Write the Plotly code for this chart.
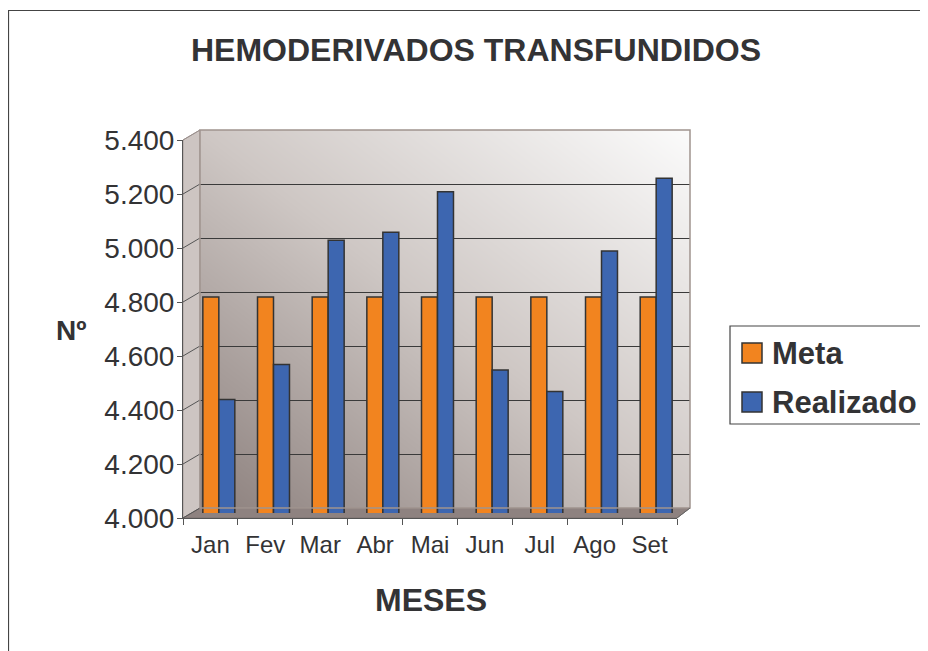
import plotly.graph_objects as go

# ---- data ----
months = ["Jan", "Fev", "Mar", "Abr", "Mai", "Jun", "Jul", "Ago", "Set"]
meta = [4800, 4800, 4800, 4800, 4800, 4800, 4800, 4800, 4800]
realizado = [4420, 4550, 5010, 5040, 5190, 4530, 4450, 4970, 5240]
y_tickvals = [4000, 4200, 4400, 4600, 4800, 5000, 5200, 5400]
y_ticktext = ["4.000", "4.200", "4.400", "4.600", "4.800", "5.000", "5.200", "5.400"]
series_names = ["Meta", "Realizado"]
title_text = "HEMODERIVADOS TRANSFUNDIDOS"
x_title = "MESES"
y_title = "Nº"

# ---- style ----
W, H = 928, 651
OFF = 8  # page body margin
FONT = "Liberation Sans, Arial, sans-serif"
TXT = "#333335"
ORANGE = "#f2841f"
BLUE = "#3d66b0"
EDGE = "#333333"

def px(x):
    return (x - OFF) / W

def py(y):
    return 1 - (y - OFF) / H

# pixel geometry in screen coords (front axis, back wall, mid depth for bars)
FX0, FX1, FY0, FY1 = 183, 677, 518, 140
BX0, BX1, BY0, BY1 = 200, 690, 508, 130
MX0, MX1, MY0, MY1 = 191.5, 683.5, 513, 135

fig = go.Figure()

fig.add_trace(go.Scatter(x=months, y=meta, mode="markers", marker=dict(opacity=0),
                         hoverinfo="skip", showlegend=False, xaxis="x", yaxis="y"))

fig.add_trace(go.Heatmap(z=[[0, 0.5], [0.5, 1]], x=[0, 1], y=[0, 1], zsmooth="best",
                         colorscale=[[0, "#8c807d"], [0.5, "#cec7c4"], [1, "#fbfbfb"]],
                         showscale=False, hoverinfo="skip", xaxis="x2", yaxis="y2"))

fig.add_trace(go.Scatter(x=[None], y=[None], mode="markers", showlegend=False,
                         hoverinfo="skip", xaxis="x3", yaxis="y3"))

fig.add_trace(go.Bar(x=months, y=meta, name=series_names[0],
                     marker=dict(color=ORANGE, line=dict(color=EDGE, width=1.5)),
                     xaxis="x4", yaxis="y4", showlegend=False))
fig.add_trace(go.Bar(x=months, y=realizado, name=series_names[1],
                     marker=dict(color=BLUE, line=dict(color=EDGE, width=1.5)),
                     xaxis="x4", yaxis="y4", showlegend=False))

shapes = []
shapes.append(dict(type="rect", xref="paper", yref="paper", x0=px(8.5), x1=px(W + 20), y0=py(H + 20), y1=py(10.5),
                   line=dict(color="#444444", width=1.2), fillcolor="rgba(0,0,0,0)", layer="below"))
shapes.append(dict(type="path", xref="paper", yref="paper",
                   path=f"M {px(FX0)} {py(FY1)} L {px(BX0)} {py(BY1)} L {px(BX0)} {py(BY0)} L {px(FX0)} {py(FY0)} Z",
                   fillcolor="#cdc5c2", line=dict(color="#a69b98", width=1), layer="below"))
shapes.append(dict(type="path", xref="paper", yref="paper",
                   path=f"M {px(FX0)} {py(FY0)} L {px(BX0)} {py(BY0)} L {px(BX1)} {py(BY0)} L {px(FX1)} {py(FY0)} Z",
                   fillcolor="#8e8280", line=dict(color="#7d7270", width=1), layer="below"))
for v in y_tickvals:
    f = (v - 4000) / 1400
    yf = FY0 + (FY1 - FY0) * f
    yb = BY0 + (BY1 - BY0) * f
    shapes.append(dict(type="line", xref="paper", yref="paper", x0=px(FX0), x1=px(BX0), y0=py(yf), y1=py(yb),
                       line=dict(color="#555555" if v != 5400 else "#9a8f8c", width=1), layer="below"))
shapes.append(dict(type="rect", xref="paper", yref="paper", x0=px(BX0), x1=px(BX1), y0=py(BY0), y1=py(BY1),
                   line=dict(color="#a0948f", width=1.5), fillcolor="rgba(0,0,0,0)", layer="above"))
shapes.append(dict(type="line", xref="paper", yref="paper", x0=px(FX1), x1=px(BX1), y0=py(FY0), y1=py(BY0),
                   line=dict(color="#666666", width=1), layer="above"))

LX0, LX1, LY0, LY1 = 730, 945, 326, 424
shapes.append(dict(type="rect", xref="paper", yref="paper", x0=px(LX0), x1=px(LX1), y0=py(LY1), y1=py(LY0),
                   line=dict(color="#444444", width=1.2), fillcolor="white", layer="below"))
legend_rows = [(series_names[0], ORANGE, 353), (series_names[1], BLUE, 402)]
annotations = []
for name, col, yc in legend_rows:
    shapes.append(dict(type="rect", xref="paper", yref="paper", x0=px(742), x1=px(762), y0=py(yc + 10), y1=py(yc - 10),
                       line=dict(color="#333333", width=1.5), fillcolor=col, layer="above"))
    annotations.append(dict(text=f"<b>{name}</b>", xref="paper", yref="paper", x=px(770), y=py(yc),
                            xanchor="left", yanchor="middle", showarrow=False,
                            font=dict(family=FONT, size=31, color=TXT)))

annotations.append(dict(text=f"<b>{title_text}</b>", xref="paper", yref="paper", x=px(476), y=py(50),
                        xanchor="center", yanchor="middle", showarrow=False,
                        font=dict(family=FONT, size=32, color=TXT)))
annotations.append(dict(text=f"<b>{x_title}</b>", xref="paper", yref="paper", x=px(431), y=py(600),
                        xanchor="center", yanchor="middle", showarrow=False,
                        font=dict(family=FONT, size=32, color=TXT)))
annotations.append(dict(text=f"<b>{y_title}</b>", xref="paper", yref="paper", x=px(71), y=py(330),
                        xanchor="center", yanchor="middle", showarrow=False,
                        font=dict(family=FONT, size=28, color=TXT)))

cat_range = [-0.5, len(months) - 0.5]

fig.update_layout(
    width=W, height=H,
    margin=dict(l=0, r=0, t=0, b=0, pad=0),
    paper_bgcolor="white", plot_bgcolor="rgba(0,0,0,0)",
    showlegend=False,
    bargap=0.415, bargroupgap=0, barmode="group",
    font=dict(family=FONT, color=TXT),
    shapes=shapes, annotations=annotations,
    xaxis=dict(domain=[px(FX0), px(FX1)], type="category", categoryorder="array", categoryarray=months,
               range=cat_range, showgrid=False, zeroline=False, showline=True, linecolor="#555555", linewidth=1,
               ticks="outside", tickson="boundaries", ticklen=6, tickcolor="#555555", automargin=False,
               ticklabelstandoff=5,
               tickfont=dict(family=FONT, size=24, color=TXT), fixedrange=True),
    yaxis=dict(domain=[py(FY0), py(FY1)], range=[4000, 5400], tickvals=y_tickvals, ticktext=y_ticktext,
               showgrid=False, zeroline=False, showline=True, linecolor="#555555", linewidth=1,
               ticks="outside", ticklen=5, tickcolor="#555555", automargin=False,
               ticklabelstandoff=-3,
               tickfont=dict(family=FONT, size=28, color=TXT), fixedrange=True),
    xaxis2=dict(domain=[px(BX0), px(BX1)], range=[0, 1], visible=False, fixedrange=True, automargin=False),
    yaxis2=dict(domain=[py(BY0), py(BY1)], range=[0, 1], visible=False, fixedrange=True, automargin=False),
    xaxis3=dict(domain=[px(BX0), px(BX1)], range=[0, 1], visible=False, fixedrange=True, automargin=False),
    yaxis3=dict(domain=[py(BY0), py(BY1)], range=[4000, 5400], tickvals=y_tickvals[1:-1],
                showticklabels=False, ticks="", showline=False, zeroline=False, automargin=False,
                showgrid=True, gridcolor="#3a3a3a", gridwidth=1, fixedrange=True),
    xaxis4=dict(domain=[px(MX0), px(MX1)], type="category", categoryorder="array", categoryarray=months,
                range=cat_range, visible=False, fixedrange=True, automargin=False),
    yaxis4=dict(domain=[py(MY0), py(MY1)], range=[4000, 5400], visible=False, fixedrange=True, automargin=False),
)

fig.write_html("out.html")
